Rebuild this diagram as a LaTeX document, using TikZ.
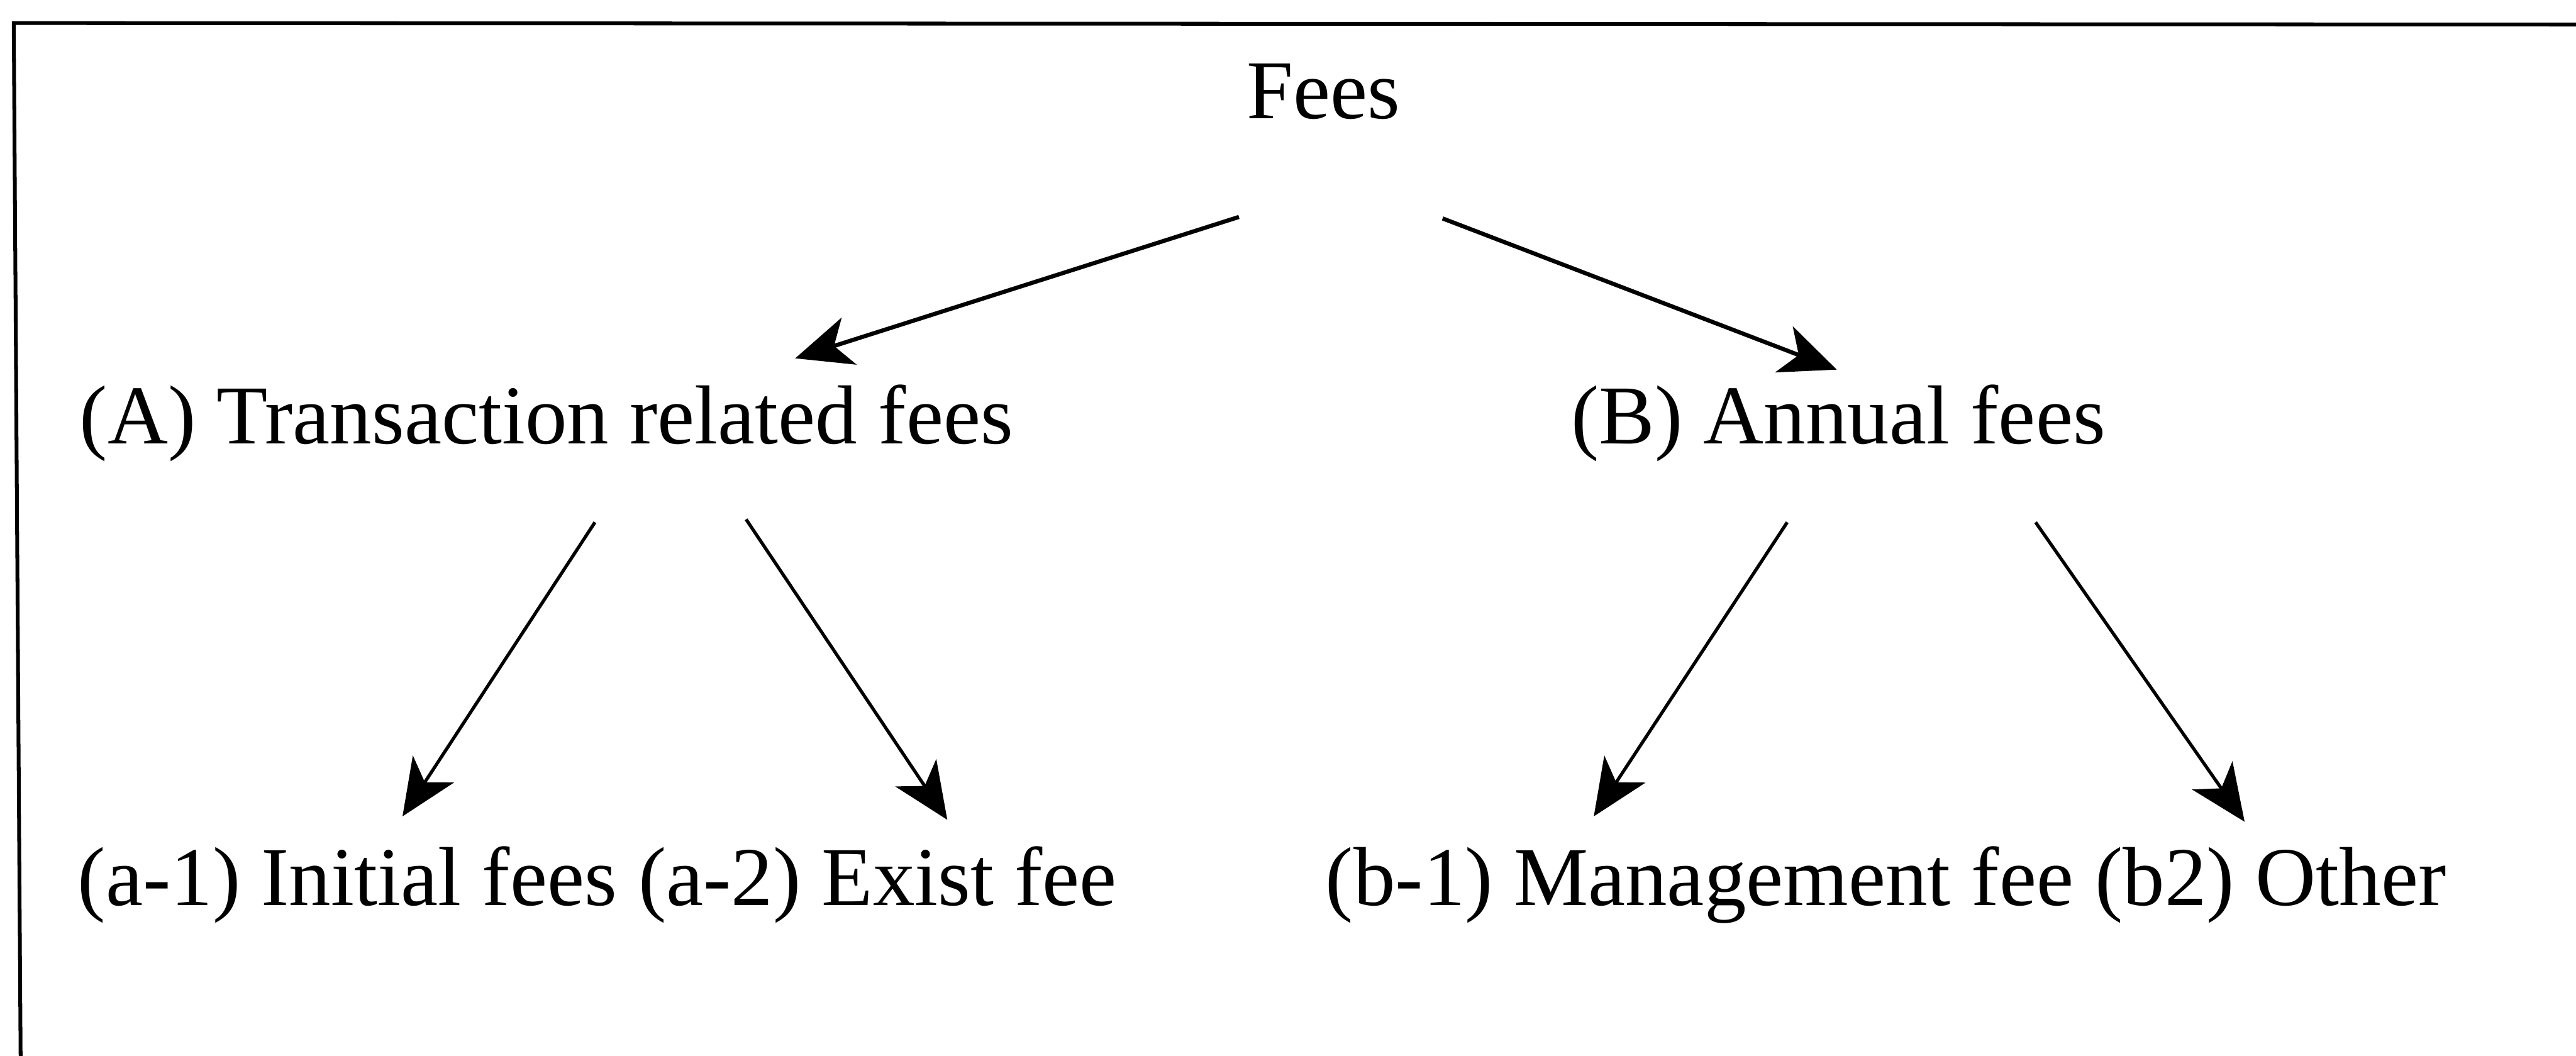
\documentclass[tikz,border=0pt]{standalone}
\usepackage{fontspec}
\setmainfont{Liberation Serif}
\usetikzlibrary{arrows.meta}
\begin{document}
\begin{tikzpicture}[
  lbl/.style={anchor=base west, inner sep=0pt, font=\fontsize{48.5}{58}\selectfont},
  arrtop/.style={-{Stealth[length=1.15cm,width=1.0cm,inset=0.32cm]}, line width=2.4pt},
  arrlow/.style={-{Stealth[length=1.15cm,width=1.0cm,inset=0.32cm]}, line width=1.9pt},
  frameline/.style={line width=2.2pt, line cap=rect}
]
\useasboundingbox (0,0) rectangle (52.48,21.5);
% frame (open at right and bottom)
\coordinate (ftl) at (0.28,21.03);
\coordinate (ftr) at (52.48,21.00);
\coordinate (fbl) at (0.42,0);
\draw[frameline] (ftr) -- (ftl) -- (fbl);

% labels
\node[lbl] (fees) at (25.39,19.09) {Fees};
\node[lbl] (A) at (1.62,12.46) {(A) Transaction related fees};
\node[lbl] (B) at (32.00,12.46) {(B) Annual fees};
\node[lbl] (a1) at (1.58,3.06) {(a-1) Initial fees};
\node[lbl] (a2) at ([xshift=12.1pt]a1.base east) {(a-2) Exist fee};
\node[lbl] (b1) at (27.00,3.06) {(b-1) Management fee};
\node[lbl] (b2) at ([xshift=12.1pt]b1.base east) {(b2) Other};

% connectors
\draw[arrtop] ([shift={(-0.15,-2.01)}]fees.base west) -- ([shift={(14.58,1.74)}]A.base west);
\draw[arrtop] ([shift={(4.00,-2.04)}]fees.base west) -- ([shift={(5.42,1.51)}]B.base west);
\draw[arrlow] ([shift={(10.50,-1.60)}]A.base west) -- ([shift={(6.62,1.81)}]a1.base west);
\draw[arrlow] ([shift={(13.58,-1.54)}]A.base west) -- ([shift={(6.30,1.74)}]a2.base west);
\draw[arrlow] ([shift={(4.41,-1.60)}]B.base west) -- ([shift={(5.47,1.81)}]b1.base west);
\draw[arrlow] ([shift={(9.47,-1.60)}]B.base west) -- ([shift={(3.05,1.70)}]b2.base west);
\end{tikzpicture}
\end{document}
